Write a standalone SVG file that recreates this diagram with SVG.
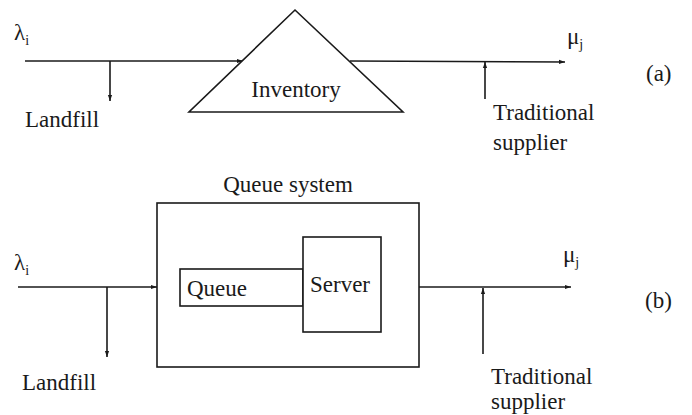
<svg xmlns="http://www.w3.org/2000/svg" width="692" height="415" viewBox="0 0 692 415">
<defs>
<style>
text{font-family:"Liberation Serif","Times New Roman","DejaVu Serif",serif;font-size:23px;fill:#1a1a1a}
.sub{font-size:14px}
.ln{stroke:#1a1a1a;stroke-width:1.6;fill:none}
.sh{stroke:#1a1a1a;stroke-width:1.6;fill:#fff}
</style>
<marker id="ah" viewBox="0 0 10 10" refX="10" refY="5" markerWidth="6" markerHeight="6" orient="auto-start-reverse" markerUnits="userSpaceOnUse">
<path d="M0,1.5 L10,5 L0,8.5 z" fill="#1a1a1a"/>
</marker>
</defs>
<rect width="692" height="415" fill="#fff"/>
<g id="connectors">
<line class="ln" x1="25" y1="61" x2="243" y2="61" marker-end="url(#ah)"/>
<line class="ln" x1="110" y1="61" x2="110" y2="101" marker-end="url(#ah)"/>
<line class="ln" x1="350" y1="61" x2="565" y2="62" marker-end="url(#ah)"/>
<line class="ln" x1="485" y1="99" x2="485" y2="62" marker-end="url(#ah)"/>
<line class="ln" x1="18" y1="287" x2="157" y2="287" marker-end="url(#ah)"/>
<line class="ln" x1="107" y1="287" x2="107" y2="357" marker-end="url(#ah)"/>
<line class="ln" x1="419" y1="287" x2="571" y2="287" marker-end="url(#ah)"/>
<line class="ln" x1="483" y1="354" x2="483" y2="288" marker-end="url(#ah)"/>
</g>
<g id="inventory">
<polygon class="sh" points="295,10 403,112 189,112"/>
<text x="296" y="97" text-anchor="middle">Inventory</text>
</g>
<g id="queue-system">
<rect class="sh" x="157" y="203" width="262" height="164"/>
<text x="288" y="192" text-anchor="middle">Queue system</text>
</g>
<g id="queue">
<rect class="sh" x="180" y="269" width="123" height="37"/>
<text x="187" y="296">Queue</text>
</g>
<g id="server">
<rect class="sh" x="303" y="237" width="78" height="95"/>
<text x="310" y="292">Server</text>
</g>
<g id="labels">
<text x="14" y="40">λ<tspan class="sub" dy="5">i</tspan></text>
<text x="567" y="44">μ<tspan class="sub" dy="5">j</tspan></text>
<text x="646" y="81">(a)</text>
<text x="25" y="127">Landfill</text>
<text x="493" y="120">Traditional</text>
<text x="493" y="150">supplier</text>
<text x="14" y="270">λ<tspan class="sub" dy="5">i</tspan></text>
<text x="563" y="262">μ<tspan class="sub" dy="5">j</tspan></text>
<text x="645" y="308">(b)</text>
<text x="22" y="390">Landfill</text>
<text x="491" y="384">Traditional</text>
<text x="491" y="409">supplier</text>
</g>
</svg>
